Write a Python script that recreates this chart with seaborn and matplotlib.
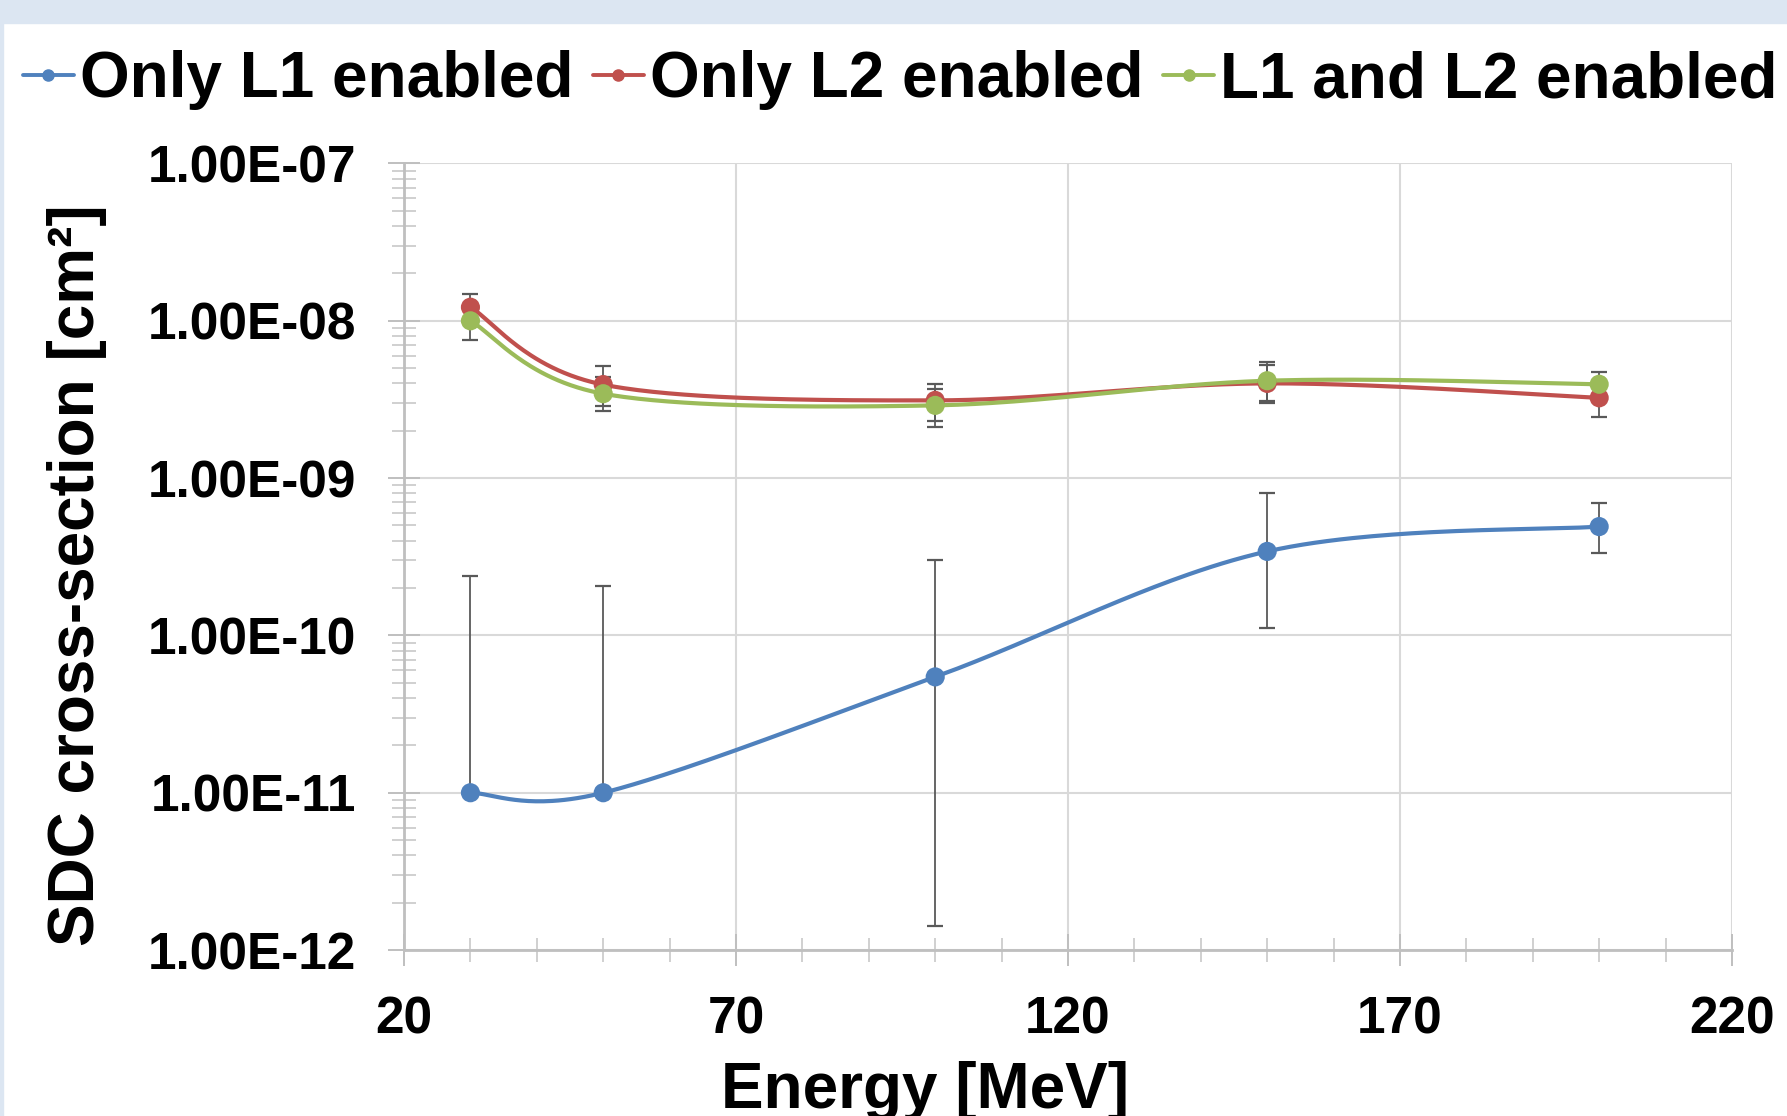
import numpy as np
import pandas as pd
import matplotlib
matplotlib.use("Agg")
import matplotlib.pyplot as plt
import seaborn as sns
from matplotlib.lines import Line2D
from matplotlib.patches import Rectangle
from matplotlib.ticker import FixedLocator, MultipleLocator, LogLocator, NullFormatter, FuncFormatter

# ------------------------------
# Data
# ------------------------------
energy = [30, 50, 100, 150, 200]

only_l1 = [1.0e-11, 1.0e-11, 5.45e-11, 3.42e-10, 4.92e-10]
only_l1_low = [1.0e-11, 1.0e-11, 1.42e-12, 1.11e-10, 3.32e-10]   # no lower bar at 30/50
only_l1_high = [2.39e-10, 2.06e-10, 3.0e-10, 8.0e-10, 6.97e-10]

only_l2 = [1.22e-8, 3.93e-9, 3.12e-9, 4.0e-9, 3.24e-9]
only_l2_low = [9.8e-9, 2.66e-9, 2.31e-9, 3.01e-9, 2.44e-9]
only_l2_high = [1.48e-8, 5.13e-9, 3.97e-9, 5.24e-9, 4.04e-9]

both = [1.0e-8, 3.44e-9, 2.90e-9, 4.16e-9, 3.95e-9]
both_low = [7.6e-9, 2.86e-9, 2.11e-9, 3.10e-9, 3.19e-9]
both_high = [1.23e-8, 4.37e-9, 3.7e-9, 5.45e-9, 4.71e-9]

labels = ["Only L1 enabled", "Only L2 enabled", "L1 and L2 enabled"]
colors = ["#4f81bd", "#c0504d", "#9bbb59"]
x_ticks = [20, 70, 120, 170, 220]


# ------------------------------
# Excel-like smoothed line (Catmull-Rom bezier in x / log10(y))
# ------------------------------
def smooth_curve(xs, ys, n=60):
    pts = np.column_stack([np.asarray(xs, float), np.log10(ys)])
    out = []
    for i in range(len(pts) - 1):
        p0 = pts[i - 1] if i > 0 else pts[i]
        p1, p2 = pts[i], pts[i + 1]
        p3 = pts[i + 2] if i + 2 < len(pts) else pts[i + 1]
        c1 = p1 + (p2 - p0) / 6.0
        c2 = p2 - (p3 - p1) / 6.0
        t = np.linspace(0, 1, n)[:, None]
        seg = ((1 - t) ** 3) * p1 + 3 * ((1 - t) ** 2) * t * c1 + 3 * (1 - t) * t ** 2 * c2 + t ** 3 * p2
        out.append(seg if i == 0 else seg[1:])
    seg = np.vstack(out)
    return pd.DataFrame({"x": seg[:, 0], "y": 10 ** seg[:, 1]})


sns.set_style("white")
plt.rcParams["font.family"] = ["Liberation Sans", "DejaVu Sans"]
plt.rcParams["font.weight"] = "bold"
plt.rcParams["text.color"] = "black"

fig = plt.figure(figsize=(17.87, 11.16), dpi=100)
fig.patch.set_facecolor("white")
# light blue frame strips (top and left)
fig.patches.append(Rectangle((0, 1 - 23 / 1116), 1, 23 / 1116, transform=fig.transFigure,
                             color="#dce6f2", zorder=0))
fig.patches.append(Rectangle((0, 0), 3 / 1787, 1, transform=fig.transFigure,
                             color="#dce6f2", zorder=0))

ax = fig.add_axes([0.2261, 0.1487, 0.9692 - 0.2261, 0.8535 - 0.1487])
ax.set_yscale("log")

series = [
    (only_l1, only_l1_low, only_l1_high),
    (only_l2, only_l2_low, only_l2_high),
    (both, both_low, both_high),
]

for (vals, low, high), col in zip(series, colors):
    vals = np.array(vals)
    yerr = [vals - np.array(low), np.array(high) - vals]
    ax.errorbar(energy, vals, yerr=yerr, fmt="none", ecolor="#595959",
                elinewidth=1.3, capsize=5.5, capthick=1.6, zorder=2)

for (vals, low, high), col in zip(series, colors):
    curve = smooth_curve(energy, vals)
    sns.lineplot(data=curve, x="x", y="y", ax=ax, color=col, lw=3.0,
                 sort=False, estimator=None, zorder=3)
    sns.scatterplot(x=energy, y=vals, ax=ax, color=col, s=190,
                    edgecolor="none", zorder=4)

ax.set_xlim(20, 220)
ax.set_ylim(1e-12, 1e-7)
ax.xaxis.set_major_locator(FixedLocator(x_ticks))
ax.xaxis.set_minor_locator(MultipleLocator(10))
ax.yaxis.set_major_locator(LogLocator(base=10, numticks=10))
ax.yaxis.set_minor_locator(LogLocator(base=10, subs=np.arange(2, 10), numticks=20))
ax.yaxis.set_minor_formatter(NullFormatter())
ax.yaxis.set_major_formatter(FuncFormatter(lambda v, p: f"{v:.2E}"))

ax.grid(True, which="major", color="#d9d9d9", lw=1.5, zorder=0)
ax.set_axisbelow(True)
for s in ["top", "right"]:
    ax.spines[s].set_visible(False)
for s in ["left", "bottom"]:
    ax.spines[s].set_color("#bfbfbf")
    ax.spines[s].set_linewidth(2)

ax.tick_params(which="both", bottom=True, left=True, top=False, right=False)
ax.tick_params(which="major", direction="inout", length=23, width=1.4, color="#bfbfbf",
               labelsize=37, labelcolor="black")
ax.tick_params(axis="y", which="major", pad=23)
ax.tick_params(axis="x", which="major", pad=21)
ax.tick_params(which="minor", direction="inout", length=17, width=1.2, color="#c8c8c8")
ax.set_xlabel("")
ax.set_ylabel("")

fig.text(77.5 / 1787, 0.4843, "SDC cross-section [cm²]", rotation=90, ha="center",
         va="center", fontsize=46, fontweight="bold", color="black")
fig.text(0.5179, 8 / 1116, "Energy [MeV]", ha="center", va="baseline",
         fontsize=46, fontweight="bold", color="black")

handles = [Line2D([], [], color=c, lw=2.8, marker="o", markersize=8) for c in colors]
leg = fig.legend(handles, labels, loc="center", bbox_to_anchor=(0.5038, 1 - 80 / 1116), ncol=3,
                 frameon=False, prop={"size": 46, "weight": "bold"}, handlelength=0.8,
                 handletextpad=0.1, columnspacing=0.3, borderpad=0, borderaxespad=0)
for t in leg.get_texts():
    t.set_color("black")

fig.savefig("out.png", dpi=100)
